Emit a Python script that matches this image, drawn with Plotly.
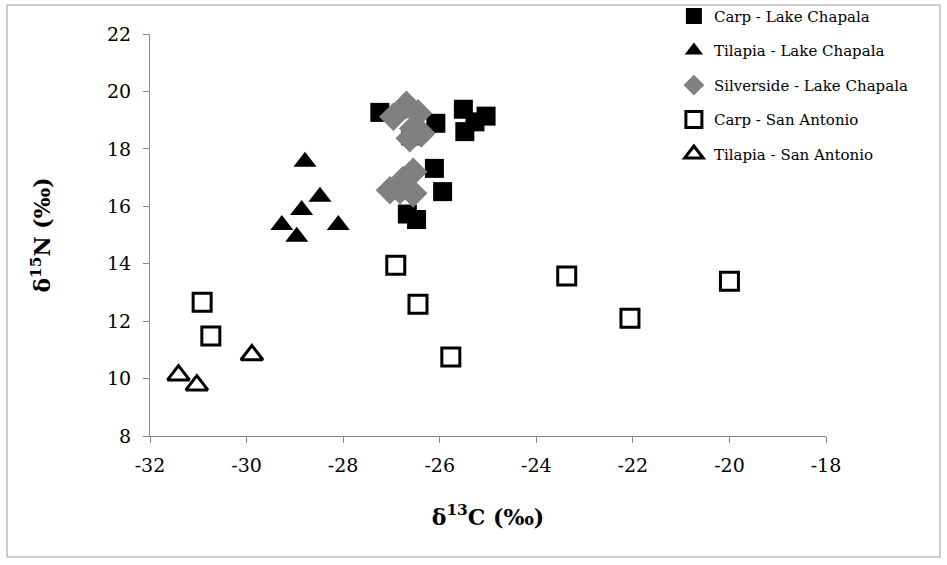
import plotly.graph_objects as go

carp_chapala_x = [-27.24, -26.08, -25.51, -25.04, -25.48, -25.27, -26.60, -26.11, -25.94, -26.67, -26.48]
carp_chapala_y = [19.27, 18.89, 19.38, 19.14, 18.60, 18.94, 18.45, 17.32, 16.51, 15.73, 15.54]

tilapia_chapala_x = [-28.79, -28.48, -28.86, -29.27, -28.96, -28.10]
tilapia_chapala_y = [17.55, 16.33, 15.87, 15.35, 14.94, 15.35]

silverside_chapala_x = [-26.69, -26.96, -26.45, -26.55, -26.38, -26.62, -26.55, -26.76, -27.03, -26.82, -26.55]
silverside_chapala_y = [19.53, 19.12, 19.24, 18.71, 18.54, 18.37, 17.20, 16.91, 16.56, 16.56, 16.45]

carp_sa_x = [-30.92, -30.74, -26.91, -26.45, -25.77, -23.37, -22.06, -20.00]
carp_sa_y = [12.66, 11.48, 13.95, 12.59, 10.75, 13.57, 12.10, 13.39]

tilapia_sa_x = [-31.41, -31.03, -29.89]
tilapia_sa_y = [10.12, 9.77, 10.82]

x_ticks = [-32, -30, -28, -26, -24, -22, -20, -18]
x_ticktext = ["-32", "-30", "-28", "-26", "-24", "-22", "-20", "-18"]
y_ticks = [8, 10, 12, 14, 16, 18, 20, 22]

FONT = "DejaVu Serif"

fig = go.Figure()
fig.add_trace(go.Scatter(x=carp_chapala_x, y=carp_chapala_y, mode="markers",
                         name="Carp - Lake Chapala", legendgroup="a",
                         marker=dict(symbol="square", size=19, color="black", line=dict(width=0))))
fig.add_trace(go.Scatter(x=tilapia_chapala_x, y=tilapia_chapala_y, mode="markers",
                         name="Tilapia - Lake Chapala", legendgroup="b",
                         marker=dict(symbol="triangle-up", size=20, color="black", line=dict(width=0))))
fig.add_trace(go.Scatter(x=silverside_chapala_x, y=silverside_chapala_y, mode="markers",
                         name="Silverside - Lake Chapala", legendgroup="c",
                         marker=dict(symbol="diamond", size=22, color="#808080", line=dict(width=0))))
fig.add_trace(go.Scatter(x=carp_sa_x, y=carp_sa_y, mode="markers",
                         name="Carp - San Antonio", legendgroup="d",
                         marker=dict(symbol="square-open", size=18, color="black", line=dict(width=3))))
fig.add_trace(go.Scatter(x=tilapia_sa_x, y=tilapia_sa_y, mode="markers",
                         name="Tilapia - San Antonio", legendgroup="e",
                         marker=dict(symbol="triangle-up-open", size=19, color="black", line=dict(width=3))))

fig.update_layout(
    width=947, height=565,
    margin=dict(l=150, r=121, t=34, b=129, autoexpand=False),
    paper_bgcolor="white", plot_bgcolor="white",
    font=dict(family=FONT, color="black"),
    showlegend=True,
    legend=dict(x=0.775, y=1.085, xanchor="left", yanchor="top",
                font=dict(family=FONT, size=15, color="black"),
                tracegroupgap=12, itemwidth=30, bgcolor="rgba(0,0,0,0)"),
    xaxis=dict(range=[-32, -18], tickvals=x_ticks, ticktext=x_ticktext,
               showgrid=False, zeroline=False, showline=True, linecolor="#888888", linewidth=1,
               ticks="outside", ticklen=6, tickcolor="#888888",
               tickfont=dict(family=FONT, size=19),
               title=dict(text="<b>δ<sup>13</sup>C (‰)</b>", font=dict(family=FONT, size=22), standoff=34)),
    yaxis=dict(range=[8, 22], tickvals=y_ticks,
               showgrid=False, zeroline=False, showline=True, linecolor="#888888", linewidth=1,
               ticks="outside", ticklen=6, tickcolor="#888888",
               tickfont=dict(family=FONT, size=19),
               title=dict(text="<b>δ<sup>15</sup>N (‰)</b>", font=dict(family=FONT, size=22), standoff=50)),
)
fig.update_xaxes(ticklabelstandoff=6)
fig.update_yaxes(ticklabelstandoff=8)

fig.add_shape(type="rect", xref="paper", yref="paper",
              x0=-0.2115, x1=1.1686, y0=-0.301, y1=1.0721,
              line=dict(color="#999999", width=1), fillcolor="rgba(0,0,0,0)", layer="below")

fig.write_html("out.html")
